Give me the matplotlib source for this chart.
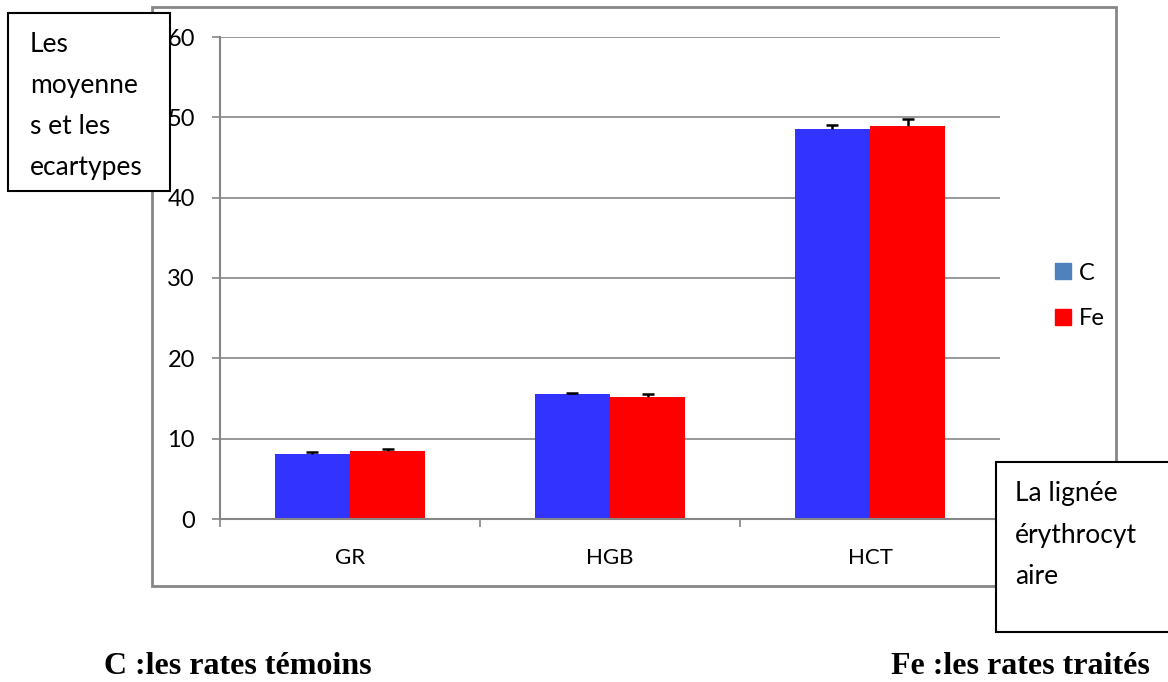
import numpy as np
import matplotlib
matplotlib.use('Agg')
import matplotlib.pyplot as plt
from matplotlib.patches import Rectangle, Patch

# data
categories = ['GR', 'HGB', 'HCT']
c_means = [8.1, 15.5, 48.5]
c_err = [0.2, 0.2, 0.6]
fe_means = [8.5, 15.2, 48.9]
fe_err = [0.2, 0.35, 0.85]

plt.rcParams['font.family'] = ['Lato', 'DejaVu Sans']

W, H = 1168, 682
fig = plt.figure(figsize=(W / 100, H / 100), dpi=100)


def fx(px):
    return px / W


def fy(py):
    return 1 - py / H


grey = '#868686'

# outer chart frame
fig.patches.append(Rectangle((fx(152), fy(586)), fx(1116 - 152), (586 - 7) / H,
                             transform=fig.transFigure, fill=False,
                             edgecolor=grey, linewidth=2, zorder=0))

ax = fig.add_axes([fx(220), fy(519), fx(1000 - 220), (519 - 37) / H])
x = np.arange(len(categories))
w = 0.29
ax.bar(x - w / 2, c_means, w, color='#3333FF', zorder=2)
ax.bar(x + w / 2, fe_means, w, color='#FF0000', zorder=2)

# upper error bars only (Excel "plus" style)
for xs, m, e in [(x - w / 2, c_means, c_err), (x + w / 2, fe_means, fe_err)]:
    tops = np.array(m) + np.array(e)
    ax.vlines(xs, m, tops, color='black', linewidth=1.8, zorder=3)
    ax.plot(xs, tops, linestyle='none', marker='_', markersize=9,
            markeredgewidth=1.8, color='black', zorder=3)

ax.set_xlim(-0.5, 2.5)
ax.set_ylim(0, 60)
ax.set_yticks(range(0, 61, 10))
ax.yaxis.grid(True, color=grey, linewidth=1.2, zorder=0)
ax.set_axisbelow(True)
for s in ['top', 'right']:
    ax.spines[s].set_visible(False)
for s in ['left', 'bottom']:
    ax.spines[s].set_color(grey)
    ax.spines[s].set_linewidth(1.5)
ax.tick_params(axis='y', direction='out', length=6, width=1.2, color=grey,
               pad=12, labelsize=17)
ax.set_xticks([-0.5, 0.5, 1.5, 2.5])
ax.set_xticklabels([])
ax.set_xticks(x, minor=True)
ax.set_xticklabels(categories, minor=True)
ax.tick_params(axis='x', which='major', direction='out', length=6, width=1.2,
               color=grey)
ax.tick_params(axis='x', which='minor', length=0, pad=21, labelsize=16)

# legend
handles = [Patch(color='#4F81BD', label='C'), Patch(color='#FF0000', label='Fe')]
fig.legend(handles=handles, loc='center left', bbox_to_anchor=(fx(1034), fy(296)),
           frameon=False, fontsize=17, handlelength=0.65, handleheight=0.65,
           handletextpad=0.35, labelspacing=1.05)

# text boxes
fig.patches.append(Rectangle((fx(8), fy(191)), fx(170 - 8), (191 - 13) / H,
                             transform=fig.transFigure, facecolor='white',
                             edgecolor='black', linewidth=1.5, zorder=5))
for i, line in enumerate(['Les', 'moyenne', 's et les', 'ecartypes']):
    fig.text(fx(30), fy(45 + i * 41), line, fontsize=19, va='center', ha='left',
             zorder=6)

fig.patches.append(Rectangle((fx(996), fy(632)), fx(1180 - 996), (632 - 462) / H,
                             transform=fig.transFigure, facecolor='white',
                             edgecolor='black', linewidth=1.5, zorder=5))
for i, line in enumerate(['La lignée', 'érythrocyt', 'aire']):
    fig.text(fx(1015), fy(493 + i * 42), line, fontsize=19, va='center',
             ha='left', zorder=6)

fig.text(fx(104), fy(666), 'C :les rates témoins', fontsize=23, fontweight='bold',
         family='Liberation Serif', va='center', ha='left')
fig.text(fx(1150), fy(666), 'Fe :les rates traités', fontsize=23,
         fontweight='bold', family='Liberation Serif', va='center', ha='right')

fig.savefig('out.png', dpi=100)
